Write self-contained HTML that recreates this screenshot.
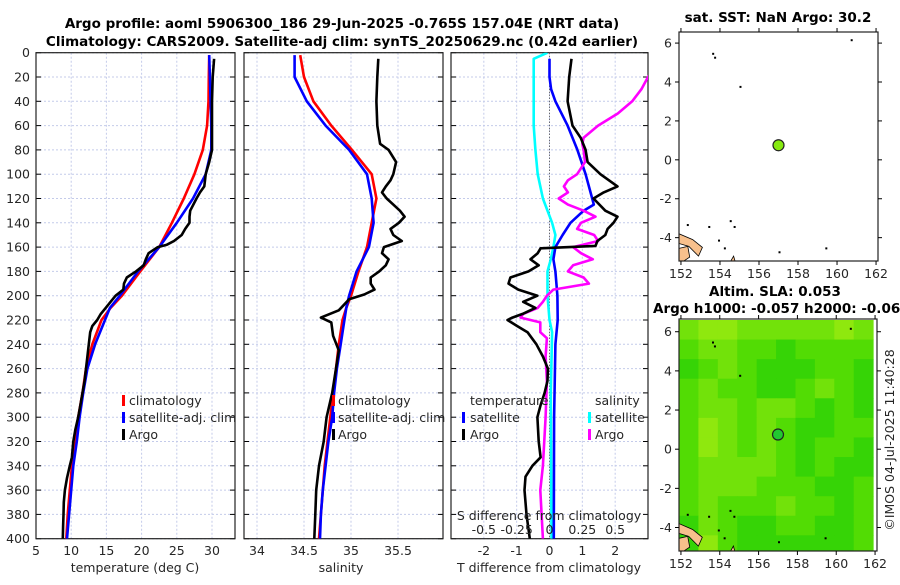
<!DOCTYPE html>
<html><head><meta charset="utf-8">
<style>
body{margin:0;background:#fff;}
svg text{font-family:"DejaVu Sans","Liberation Sans",sans-serif;fill:#262626;}
.t{font-size:12.5px;}
.b{font-weight:bold;font-size:13.5px;fill:#000;}
</style></head>
<body>
<svg id="fig" width="900" height="580" viewBox="0 0 900 580" xmlns="http://www.w3.org/2000/svg">
<text class="b" x="342" y="28" text-anchor="middle">Argo profile: aoml 5906300_186 29-Jun-2025 -0.765S 157.04E (NRT data)</text>
<text class="b" x="342" y="46" text-anchor="middle">Climatology: CARS2009. Satellite-adj clim: synTS_20250629.nc (0.42d earlier)</text>
<text class="b" x="778" y="22" text-anchor="middle">sat. SST: NaN Argo: 30.2</text>
<text class="b" x="775" y="296" text-anchor="middle">Altim. SLA: 0.053</text>
<text class="b" x="653" y="313">Argo h1000: -0.057 h2000: -0.065</text>
<text class="t" x="0" y="0" transform="translate(894,440) rotate(-90)" text-anchor="middle">©IMOS 04-Jul-2025 11:40:28</text>
<g id="plots"></g>
</svg>
<script>
// ---------- data ----------
const depthTicks = [0,20,40,60,80,100,120,140,160,180,200,220,240,260,280,300,320,340,360,380,400];
const tempTicks = [5,10,15,20,25,30];
const salTicks = [34,34.5,35,35.5];
const salTickLabels = ["34","34.5","35","35.5"];
const tdiffTicks = [-2,-1,0,1,2];
const sdiffTicks = [-0.5,-0.25,0,0.25,0.5];
const sdiffTickLabels = ["-0.5","-0.25","0","0.25","0.5"];

const climDepth = [2,20,40,60,80,100,120,140,160,180,200,210,220,240,260,280,300,320,340,360,380,400];
const tempClim = [29.6,29.55,29.5,29.3,28.7,27.5,26.0,24.3,22.5,19.8,17.2,15.6,14.3,13.0,12.1,11.6,11.0,10.6,10.1,9.8,9.5,9.3];
const tempSat  = [29.6,29.7,29.8,29.9,29.9,29.1,27.3,25.0,22.5,19.5,16.9,15.5,14.8,13.4,12.3,11.7,11.2,10.8,10.3,10.0,9.7,9.4];
const salClim  = [34.46,34.5,34.6,34.79,35.01,35.22,35.27,35.22,35.17,35.08,35.0,34.95,34.91,34.87,34.84,34.81,34.78,34.75,34.72,34.70,34.68,34.66];
const salSat   = [34.40,34.40,34.53,34.73,34.98,35.17,35.22,35.24,35.19,35.06,34.98,34.95,34.93,34.89,34.85,34.82,34.80,34.76,34.73,34.70,34.68,34.67];

const argoTDepth = [5,20,40,60,70,80,90,100,110,115,120,130,135,140,145,150,155,158,160,165,170,175,180,185,190,195,200,205,210,215,220,225,230,240,250,260,270,280,290,300,310,320,333,340,350,360,370,380,390,400];
const argoTemp = [30.3,30.1,30.0,30.0,30.0,30.0,29.6,29.1,28.9,28.3,27.8,26.9,26.8,26.8,26.2,25.7,24.6,23.6,22.3,21.0,20.6,20.3,19.2,17.9,17.5,17.4,16.3,15.6,14.9,14.2,13.7,13.0,12.7,12.5,12.3,12.1,11.9,11.6,11.3,11.0,10.6,10.3,10.1,9.8,9.4,9.1,8.95,8.9,8.85,8.8];

const argoSDepth = [5,20,40,60,75,80,90,100,105,110,115,120,125,130,135,140,145,150,155,160,165,170,175,180,185,190,195,199,203,212,218,222,233,245,260,280,300,320,340,360,380,400];
const argoSal = [35.29,35.28,35.27,35.28,35.31,35.40,35.48,35.45,35.42,35.37,35.33,35.38,35.45,35.52,35.57,35.51,35.42,35.45,35.54,35.35,35.33,35.40,35.37,35.30,35.21,35.21,35.25,35.14,34.98,34.87,34.68,34.79,34.81,34.87,34.84,34.80,34.74,34.71,34.66,34.63,34.62,34.61];

const tdSatDepth = [5,20,30,40,60,80,100,120,125,130,140,150,160,170,180,200,220,240,300,400];
const tdSat = [0,0,0.05,0.18,0.55,0.85,1.1,1.3,1.35,1.04,0.64,0.4,0.18,0.12,0.18,0.24,0.25,0.18,0.14,0.13];

const tdArgoDepth = [5,20,40,60,70,80,90,100,110,115,120,130,135,140,145,150,155,159,161,165,170,175,180,185,190,195,200,205,210,215,218,220,225,230,240,250,260,270,280,290,300,320,333,340,349,360,380,400];
const tdArgo = [0.67,0.6,0.55,0.7,0.95,1.1,1.16,1.55,2.07,1.65,1.34,1.7,2.07,1.95,1.77,1.7,1.46,1.4,-0.27,-0.36,-0.58,-0.33,-0.64,-1.19,-1.25,-0.95,-0.37,-0.8,-0.43,-0.82,-1.13,-1.28,-0.98,-0.67,-0.4,-0.2,-0.05,-0.06,-0.15,-0.27,-0.37,-0.33,-0.27,-0.52,-0.73,-0.76,-0.7,-0.6];

const sdSatDepth = [0,5,20,40,60,80,100,120,140,150,160,170,180,200,220,230,280,400];
const sdSat = [-0.015,-0.12,-0.12,-0.12,-0.12,-0.107,-0.09,-0.05,0.02,0.045,0.03,0.01,-0.015,-0.015,0,0.02,0.01,0.015];

const sdArgoDepth = [15,20,30,40,50,60,70,75,80,90,100,105,110,115,120,125,130,135,140,145,150,155,160,165,170,175,180,185,190,195,200,205,210,215,218,222,230,235,250,270,300,340,360,400];
const sdArgo = [0.78,0.75,0.70,0.63,0.52,0.37,0.26,0.25,0.26,0.27,0.21,0.14,0.11,0.14,0.07,0.14,0.26,0.35,0.24,0.21,0.34,0.37,0.18,0.24,0.33,0.18,0.14,0.26,0.30,0.03,-0.02,-0.05,-0.09,-0.20,-0.22,-0.07,-0.07,-0.02,-0.03,-0.02,-0.03,-0.05,-0.07,-0.05];

const lonTicks = [152,154,156,158,160,162];
const latTicks = [6,4,2,0,-2,-4];
const argoLon = 157.0, argoLat = 0.75;
// SLA field colour class per 1x1 degree cell (rows from north to south)
const slaRows = [
 "baabbbbbab","cbbccdcccc","dcbcdddccd","cbccddcbcd","cbbcbbcdcd","cabcbcddcc",
 "cabcbcdccd","cbbbbcdcdd","cbbbcccddc","cbcccbccdc","dbcddccddc","dacddddddc"];

// ---------- drawing ----------
const NS="http://www.w3.org/2000/svg";
const root=document.getElementById('plots');
function mk(tag,attrs,parent){const e=document.createElementNS(NS,tag);for(const k in attrs)e.setAttribute(k,attrs[k]);(parent||root).appendChild(e);return e;}
const Y0=52.7, Y1=538.7, DMAX=400;
const yD = d => Y0 + d*(Y1-Y0)/DMAX;
function xs(x0,x1,v0,v1){return v=>x0+(v-v0)*(x1-x0)/(v1-v0);}

function panel(name,x0,x1,xScale,ticks,labels,showY){
  const g=mk('g',{});
  
  
  depthTicks.forEach(d=>{
    const l=mk('line',{x1:x0,x2:x1,y1:yD(d),y2:yD(d),stroke:'#c4cbea','stroke-width':1,'stroke-dasharray':'2,2'},g);
    
    
    mk('line',{x1:x0,x2:x0+5,y1:yD(d),y2:yD(d),stroke:'#000'},g);
    mk('line',{x1:x1-5,x2:x1,y1:yD(d),y2:yD(d),stroke:'#000'},g);
    if(showY){
      const t=mk('text',{x:x0-6,y:yD(d)+4.5,'text-anchor':'end',class:'t'},g);
      t.textContent=d;
      
      
    }
  });
  ticks.forEach((v,i)=>{
    const x=xScale(v);
    mk('line',{x1:x,x2:x,y1:Y0,y2:Y1,stroke:'#c4cbea','stroke-width':1,'stroke-dasharray':'2,2'},g);
    if(labels){
      const t=mk('text',{x:x,y:555,'text-anchor':'middle',class:'t'},g);
      t.textContent=labels[i];
      
      
    }
  });
  const r=mk('rect',{x:x0,y:Y0,width:x1-x0,height:Y1-Y0,fill:'none',stroke:'#222','stroke-width':1.2},g);
  
  
  const cp=mk('clipPath',{id:'clip-'+name},g);
  mk('rect',{x:x0,y:Y0,width:x1-x0,height:Y1-Y0},cp);
  return g;
}
function line(g,name,xScale,depths,vals,color,clip){
  let d='';
  vals.forEach((v,i)=>{d+=(i?'L':'M')+xScale(v).toFixed(1)+','+yD(depths[i]).toFixed(1);});
  const p=mk('path',{d:d,fill:'none',stroke:color,'stroke-width':2.6,'stroke-linejoin':'round','clip-path':'url(#clip-'+clip+')'},g);
  
  
}
function txt(g,name,x,y,s,anchor){
  const t=mk('text',{x:x,y:y,class:'t','text-anchor':anchor||'start'},g);
  t.textContent=s;
  
  
  return t;
}
function legendMark(g,name,x,y,color){
  const r=mk('rect',{x:x,y:y-10,width:3,height:11,fill:color},g);
  
  
}

// Panel 1 temperature
const xT=xs(36,212,5,30);
const g1=panel('temperature-panel',36,235,xT,tempTicks,tempTicks,true);
line(g1,'temp-climatology-line',xT,climDepth,tempClim,'#f00','temperature-panel');
line(g1,'temp-satellite-line',xT,climDepth,tempSat,'#00f','temperature-panel');
line(g1,'temp-argo-line',xT,argoTDepth,argoTemp,'#000','temperature-panel');
txt(g1,'temp-x-axis-title',135,572,'temperature (deg C)','middle');
[['climatology','#f00'],['satellite-adj. clim','#00f'],['Argo','#000']].forEach((e,i)=>{
  legendMark(g1,'legend-marker',122,405+i*17,e[1]);
  txt(g1,'legend-entry',129,405+i*17,e[0]);
});

// Panel 2 salinity
const xS=xs(257,398,34,35.5);
const g2=panel('salinity-panel',244,443,xS,salTicks,salTickLabels,false);
line(g2,'sal-climatology-line',xS,climDepth,salClim,'#f00','salinity-panel');
line(g2,'sal-satellite-line',xS,climDepth,salSat,'#00f','salinity-panel');
line(g2,'sal-argo-line',xS,argoSDepth,argoSal,'#000','salinity-panel');
txt(g2,'salinity-x-axis-title',341,572,'salinity','middle');
[['climatology','#f00'],['satellite-adj. clim','#00f'],['Argo','#000']].forEach((e,i)=>{
  legendMark(g2,'legend-marker',332,405+i*17,e[1]);
  txt(g2,'legend-entry',338,405+i*17,e[0]);
});

// Panel 3 differences
const xTD=xs(451,648,-3,3);
const xSD=xs(451,648,-0.75,0.75);
const g3=panel('difference-panel',451,648,xTD,tdiffTicks,tdiffTicks,false);
mk('line',{x1:xTD(0),x2:xTD(0),y1:Y0,y2:Y1,stroke:'#444','stroke-width':1,'stroke-dasharray':'1,2'},g3);
line(g3,'sdiff-satellite-line',xSD,sdSatDepth,sdSat,'#0ff','difference-panel');
line(g3,'tdiff-satellite-line',xTD,tdSatDepth,tdSat,'#00f','difference-panel');
line(g3,'sdiff-argo-line',xSD,sdArgoDepth,sdArgo,'#f0f','difference-panel');
line(g3,'tdiff-argo-line',xTD,tdArgoDepth,tdArgo,'#000','difference-panel');
txt(g3,'s-diff-axis-title',549,520,'S difference from climatology','middle');
sdiffTicks.forEach((v,i)=>txt(g3,'s-diff-tick-label',xSD(v),534,sdiffTickLabels[i],'middle'));
txt(g3,'t-diff-axis-title',549,572,'T difference from climatology','middle');
txt(g3,'legend-title-temperature',470,405,'temperature');
txt(g3,'legend-title-salinity',595,405,'salinity');
legendMark(g3,'legend-marker',462,422,'#00f');txt(g3,'legend-entry',470,422,'satellite');
legendMark(g3,'legend-marker',462,439,'#000');txt(g3,'legend-entry',470,439,'Argo');
legendMark(g3,'legend-marker',588,422,'#0ff');txt(g3,'legend-entry',595,422,'satellite');
legendMark(g3,'legend-marker',588,439,'#f0f');txt(g3,'legend-entry',595,439,'Argo');

// Maps
function map(name,x0,x1,yTop,yBot,latTop,latBot,filled,dotColor,labelY){
  const lonX=xs(x0,x1,151.9,162.1);
  const latY=xs(yTop,yBot,latTop,latBot);
  const g=mk('g',{});
  
  
  const cp=mk('clipPath',{id:'clip-'+name},g);
  mk('rect',{x:x0,y:yTop,width:x1-x0,height:yBot-yTop},cp);
  const inner=mk('g',{'clip-path':'url(#clip-'+name+')'},g);
  if(filled){
    const col={a:'#8fe80e',b:'#72e20a',c:'#52dc04',d:'#36d406',e:'#24cc12'};
    slaRows.forEach((row,ri)=>{
      for(let ci=0;ci<row.length;ci++){
        const la=6.6-ri, lo=151.9+ci;
        const r=mk('rect',{x:lonX(lo),y:latY(la),width:lonX(lo+1)-lonX(lo)+0.5,height:latY(la-1)-latY(la)+0.5,fill:col[row[ci]]},inner);
        
        
      }
    });
  }
  const isl=[[[151.9,-3.8],[152.6,-4.1],[153.1,-4.5],[152.9,-4.95],[152.4,-4.45],[151.9,-4.3]],
             [[151.9,-4.55],[152.35,-4.45],[152.45,-5.0],[152.0,-5.3],[151.9,-5.3]],
             [[154.5,-5.3],[154.7,-4.95],[154.8,-5.3]]];
  isl.forEach(p=>{
    const pg=mk('polygon',{points:p.map(q=>lonX(q[0]).toFixed(1)+','+latY(q[1]).toFixed(1)).join(' '),fill:'#f8c08c',stroke:'#000','stroke-width':0.8},inner);
    
    
  });
  [[153.6,5.5],[153.7,5.3],[155.0,3.8],[160.7,6.2],[154.5,-3.1],[154.7,-3.4],[153.9,-4.1],[154.2,-4.5],[157.0,-4.7],[159.4,-4.5],[152.3,-3.3],[153.4,-3.4]].forEach(p=>{
    mk('rect',{x:lonX(p[0]),y:latY(p[1]),width:2,height:2,fill:'#000'},inner);
  });
  const c=mk('circle',{cx:lonX(argoLon),cy:latY(argoLat),r:5.5,fill:dotColor,stroke:'#222','stroke-width':1.2},g);
  
  
  mk('rect',{x:x0,y:yTop,width:x1-x0,height:yBot-yTop,fill:'none',stroke:'#222','stroke-width':1.2},g);
  lonTicks.forEach(v=>{
    mk('line',{x1:lonX(v),x2:lonX(v),y1:yTop,y2:yTop-4,stroke:'#000'},g);
    mk('line',{x1:lonX(v),x2:lonX(v),y1:yBot,y2:yBot+4,stroke:'#000'},g);
    txt(g,'lon-tick-label',lonX(v),labelY,String(v),'middle');
  });
  latTicks.forEach(v=>{
    mk('line',{x1:x0,x2:x0-4,y1:latY(v),y2:latY(v),stroke:'#000'},g);
    mk('line',{x1:x1,x2:x1+4,y1:latY(v),y2:latY(v),stroke:'#000'},g);
    txt(g,'lat-tick-label',x0-7,latY(v)+4.5,String(v),'end');
  });
}
map('sst-map',679,878,32,261,6.57,-5.2,false,'#86ea10',278);
map('sla-map',679,877,319,551,6.65,-5.2,true,'#22c830',568);
</script>
</body></html>
